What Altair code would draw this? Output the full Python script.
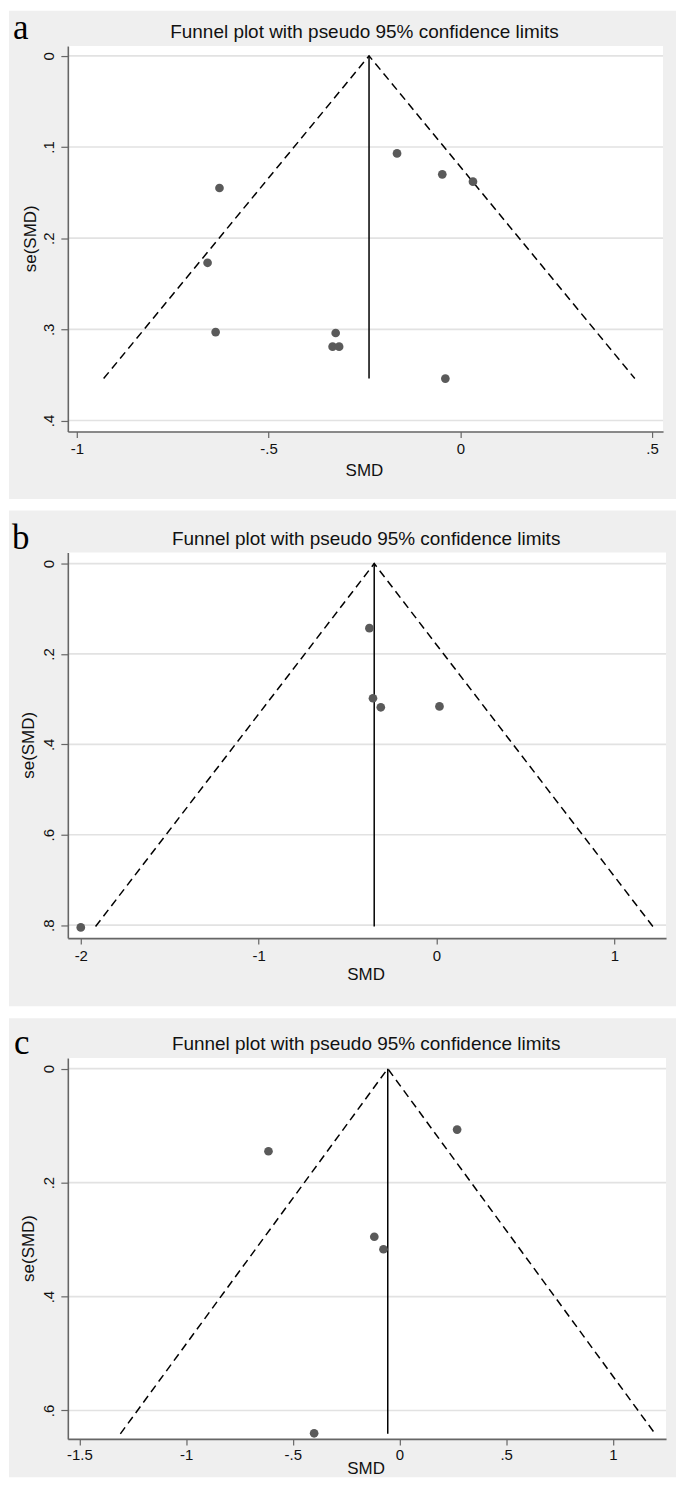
import altair as alt
import pandas as pd

TITLE = "Funnel plot with pseudo 95% confidence limits"
SANS = "Liberation Sans, Arial, Helvetica, sans-serif"
SERIF = "Liberation Serif, Times New Roman, serif"

# ---------------- panel a ----------------
a_smd = [-0.165, -0.047, 0.033, -0.628, -0.659, -0.638, -0.325, -0.333, -0.316, -0.039]
a_se = [0.107, 0.130, 0.138, 0.145, 0.227, 0.303, 0.304, 0.319, 0.319, 0.354]
a_funnel_x = [-0.930, -0.238, 0.455]
a_funnel_y = [0.354, 0.0, 0.354]
a_x_ticks = [-1, -0.5, 0, 0.5]
a_x_labels = ["-1", "-.5", "0", ".5"]
a_y_ticks = [0, 0.1, 0.2, 0.3, 0.4]
a_y_labels = ["0", ".1", ".2", ".3", ".4"]
a_x_domain = [-1.0234, 0.5286]
a_y_domain = [-0.0107, 0.412]

# ---------------- panel b ----------------
b_smd = [-0.377, -0.357, -0.313, 0.017, -2.0]
b_se = [0.143, 0.298, 0.318, 0.316, 0.805]
b_funnel_x = [-1.917, -0.350, 1.217]
b_funnel_y = [0.803, 0.0, 0.803]
b_x_ticks = [-2, -1, 0, 1]
b_x_labels = ["-2", "-1", "0", "1"]
b_y_ticks = [0, 0.2, 0.4, 0.6, 0.8]
b_y_labels = ["0", ".2", ".4", ".6", ".8"]
b_x_domain = [-2.0729, 1.291]
b_y_domain = [-0.0243, 0.8287]

# ---------------- panel c ----------------
c_smd = [0.270, -0.614, -0.118, -0.075, -0.400]
c_se = [0.107, 0.145, 0.295, 0.317, 0.640]
c_funnel_x = [-1.308, -0.055, 1.198]
c_funnel_y = [0.641, 0.0, 0.641]
c_x_ticks = [-1.5, -1, -0.5, 0, 0.5, 1]
c_x_labels = ["-1.5", "-1", "-.5", "0", ".5", "1"]
c_y_ticks = [0, 0.2, 0.4, 0.6]
c_y_labels = ["0", ".2", ".4", ".6"]
c_x_domain = [-1.5542, 1.249]
c_y_domain = [-0.0186, 0.6499]


def label_expr(ticks, labels):
    expr = "datum.label"
    for t, l in reversed(list(zip(ticks, labels))):
        expr = f"abs(datum.value - ({t})) < 1e-9 ? '{l}' : ({expr})"
    return expr


def panel(letter, smd, se, fx, fy, xt, xl, yt, yl, xdom, ydom, geo):
    W, H = geo["W"], geo["H"]
    one = pd.DataFrame({"k": [0]})
    pts = pd.DataFrame({"x": smd, "y": se})
    fun = pd.DataFrame({"x": fx, "y": fy, "o": [0, 1, 2]})
    vline = pd.DataFrame({"x": [fx[1]], "y": [0.0], "y2": [max(fy)]})
    grid = pd.DataFrame({"y": yt})

    xaxis = alt.Axis(values=xt, labelExpr=label_expr(xt, xl), title=None, grid=False,
                     tickSize=6, labelPadding=geo["xlp"], labelFontSize=15, labelFont=SANS,
                     labelColor="#111111", domainColor="#666666", domainWidth=1.6,
                     tickColor="#666666", tickWidth=1.2, labelFlush=False,
                     labelOverlap=False, zindex=2)
    yaxis = alt.Axis(values=yt, labelExpr=label_expr(yt, yl), title=None, grid=False,
                     tickSize=7, labelPadding=7, labelFontSize=15, labelFont=SANS,
                     labelColor="#111111", domainColor="#666666", domainWidth=1.6,
                     tickColor="#666666", tickWidth=1.2, labelAngle=270,
                     labelAlign="center", labelBaseline="alphabetic",
                     labelFlush=False, labelOverlap=False, zindex=2)
    X = alt.X("x:Q", scale=alt.Scale(domain=xdom, nice=False, zero=False), axis=xaxis)
    Y = alt.Y("y:Q", scale=alt.Scale(domain=ydom, nice=False, zero=False, reverse=True), axis=yaxis)

    gray = alt.Chart(one).mark_rect(color="#efefef").encode(
        x=alt.value(geo["gl"]), x2=alt.value(W + geo["gr"]),
        y=alt.value(geo["gt"]), y2=alt.value(H + geo["gb"]))
    white = alt.Chart(one).mark_rect(color="#ffffff").encode(
        x=alt.value(0), x2=alt.value(W), y=alt.value(0), y2=alt.value(H))
    gridlines = alt.Chart(grid).mark_rule(color="#e2e2e2", strokeWidth=1.7).encode(
        y=Y, x=alt.value(0), x2=alt.value(W))
    dashed = alt.Chart(fun).mark_line(color="#000000", strokeWidth=1.5, strokeDash=[8, 5]).encode(
        x=X, y=Y, order="o:Q")
    vert = alt.Chart(vline).mark_rule(color="#000000", strokeWidth=1.5).encode(
        x=X, y=Y, y2="y2:Q")
    points = alt.Chart(pts).mark_circle(color="#5a5a5a", opacity=1, size=76).encode(x=X, y=Y)

    title = alt.Chart(one).mark_text(text=TITLE, font=SANS, fontSize=19, color="#111111",
                                     align="center", baseline="alphabetic").encode(
        x=alt.value(W / 2 + geo["tx"]), y=alt.value(-8))
    let = alt.Chart(one).mark_text(text=letter, font=SERIF, fontSize=35, color="#000000",
                                   align="left", baseline="alphabetic").encode(
        x=alt.value(geo["lx"]), y=alt.value(geo["ly"]))
    xt_ = alt.Chart(one).mark_text(text="SMD", font=SANS, fontSize=17, color="#111111",
                                   align="center", baseline="alphabetic").encode(
        x=alt.value(W / 2 + geo["tx"]), y=alt.value(H + geo["xty"]))
    yt_ = alt.Chart(one).mark_text(text="se(SMD)", font=SANS, fontSize=17, color="#111111",
                                   align="center", baseline="middle", angle=270).encode(
        x=alt.value(geo["ytx"]), y=alt.value(H / 2))

    return alt.layer(gray, white, gridlines, dashed, vert, points, title, let, xt_, yt_).properties(
        width=W, height=H)


# all plot areas share the same left edge (page x = 67) so the grid layout aligns them
geo_a = dict(W=597, H=386.5, gl=-59, gr=13, gt=-35.5, gb=67.7, lx=-55, ly=-7.5,
             xty=45, ytx=-37, xlp=4, tx=-1)
geo_b = dict(W=600, H=386.7, gl=-59, gr=10, gt=-42.3, gb=68.3, lx=-56, ly=-3.3,
             xty=42.3, ytx=-39, xlp=4, tx=-0.8)
geo_c = dict(W=600, H=382, gl=-59, gr=10, gt=-40, gb=38.5, lx=-54, ly=-4.4,
             xty=35.5, ytx=-39, xlp=3, tx=-0.8)

pa = panel("a", a_smd, a_se, a_funnel_x, a_funnel_y, a_x_ticks, a_x_labels, a_y_ticks, a_y_labels,
           a_x_domain, a_y_domain, geo_a)
pb = panel("b", b_smd, b_se, b_funnel_x, b_funnel_y, b_x_ticks, b_x_labels, b_y_ticks, b_y_labels,
           b_x_domain, b_y_domain, geo_b)
pc = panel("c", c_smd, c_se, c_funnel_x, c_funnel_y, c_x_ticks, c_x_labels, c_y_ticks, c_y_labels,
           c_x_domain, c_y_domain, geo_c)

chart = alt.vconcat(pa, pb, pc, spacing=10).properties(
    padding={"left": 0, "top": 0, "right": 0, "bottom": 0}
).configure_view(stroke=None).configure(background="#ffffff")

chart.save("out.html", embed_options={"renderer": "svg", "actions": False})
